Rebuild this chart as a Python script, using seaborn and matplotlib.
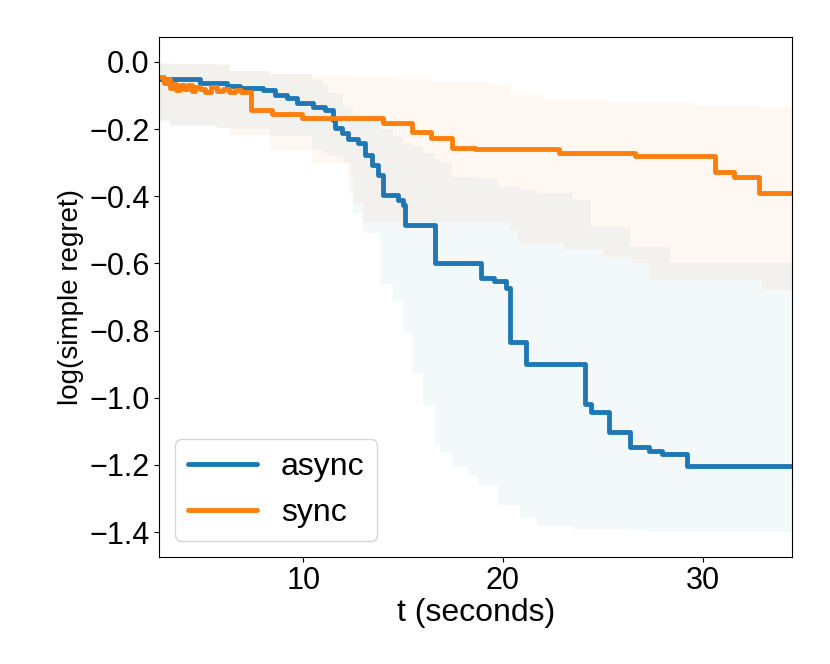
import numpy as np
import pandas as pd
import matplotlib
matplotlib.use("Agg")
import matplotlib.pyplot as plt
import seaborn as sns

# mean curves (step functions)
async_t = [2.83, 4.83, 6.17, 6.83, 8.0, 8.58, 9.17, 9.67, 10.5, 11.09, 11.5, 11.59,
           11.92, 12.25, 12.76, 13.09, 13.43, 13.76, 14.01, 14.76, 15.01, 15.09,
           16.61, 18.9, 19.55, 20.15, 20.35, 21.15, 24.12, 24.39, 25.31, 26.36,
           27.33, 27.98, 29.23, 34.49]
async_y = [-0.052, -0.062, -0.072, -0.077, -0.084, -0.099, -0.109, -0.124, -0.134,
           -0.144, -0.173, -0.198, -0.213, -0.231, -0.241, -0.278, -0.307, -0.337,
           -0.397, -0.411, -0.426, -0.486, -0.598, -0.643, -0.652, -0.672, -0.833,
           -0.900, -1.018, -1.041, -1.102, -1.146, -1.157, -1.167, -1.203, -1.203]

sync_t = [2.83, 3.0, 3.15, 3.3, 3.45, 3.6, 3.8, 4.0, 4.2, 4.4, 4.6, 4.85, 5.1, 5.4,
          5.7, 6.0, 6.3, 6.6, 6.9, 7.38, 8.42, 9.92, 14.01, 15.45, 16.4, 17.45,
          18.62, 22.82, 26.61, 30.62, 31.58, 32.82, 34.49]
sync_y = [-0.045, -0.062, -0.05, -0.078, -0.065, -0.085, -0.07, -0.082, -0.068,
          -0.086, -0.074, -0.08, -0.09, -0.075, -0.086, -0.08, -0.09, -0.085, -0.09,
          -0.144, -0.154, -0.166, -0.183, -0.208, -0.227, -0.255, -0.26, -0.27,
          -0.28, -0.329, -0.342, -0.39, -0.39]

# shaded bands
async_band_t = [2.79, 3.33, 5.66, 6.33, 8.33, 10.42, 10.92, 11.25, 12.0, 12.34, 12.5,
                13.0, 13.84, 14.51, 15.01, 15.43, 16.01, 16.6, 16.85, 17.43, 18.26,
                18.76, 19.76, 20.85, 21.69, 23.5, 24.4, 26.36, 27.28, 28.36, 34.49]
async_upper = [-0.005, -0.005, -0.01, -0.027, -0.035, -0.054, -0.069, -0.094, -0.134,
               -0.14, -0.164, -0.17, -0.2, -0.22, -0.243, -0.25, -0.27, -0.29, -0.302,
               -0.342, -0.342, -0.35, -0.372, -0.382, -0.39, -0.411, -0.491, -0.55,
               -0.55, -0.60, -0.60]
async_lower = [-0.178, -0.19, -0.198, -0.2, -0.22, -0.26, -0.27, -0.28, -0.30, -0.39,
               -0.45, -0.51, -0.66, -0.71, -0.808, -0.927, -1.021, -1.14, -1.16,
               -1.205, -1.23, -1.259, -1.319, -1.354, -1.383, -1.39, -1.39, -1.395,
               -1.398, -1.398, -1.398]

sync_band_t = [2.79, 3.33, 5.66, 6.33, 8.33, 10.42, 12.17, 12.5, 13.0, 14.68, 16.5,
               19.3, 20.35, 20.75, 22.0, 23.0, 25.0, 26.4, 27.3, 29.5, 33.0, 34.49]
sync_upper = [0.0, -0.005, -0.005, -0.027, -0.035, -0.04, -0.045, -0.045, -0.045,
              -0.05, -0.06, -0.07, -0.10, -0.10, -0.115, -0.115, -0.12, -0.12, -0.12,
              -0.13, -0.135, -0.135]
sync_lower = [-0.173, -0.188, -0.198, -0.218, -0.263, -0.302, -0.337, -0.421, -0.476,
              -0.476, -0.476, -0.476, -0.50, -0.54, -0.54, -0.56, -0.58, -0.60,
              -0.649, -0.649, -0.679, -0.679]

sns.set_style("ticks")
plt.rcParams['font.family'] = ['Liberation Sans', 'DejaVu Sans']
for key in ['text.color', 'axes.labelcolor', 'xtick.color', 'ytick.color', 'axes.edgecolor']:
    plt.rcParams[key] = 'black'
palette = sns.color_palette("tab10")

fig, ax = plt.subplots(figsize=(8.3, 6.64), dpi=100)
fig.subplots_adjust(left=0.192, right=0.9545, bottom=0.1616, top=0.9438)

ax.fill_between(async_band_t, async_lower, async_upper, step="post",
                color=palette[0], alpha=0.05, linewidth=0)
ax.fill_between(sync_band_t, sync_lower, sync_upper, step="post",
                color=palette[1], alpha=0.05, linewidth=0)

df_async = pd.DataFrame({"t": async_t, "y": async_y})
df_sync = pd.DataFrame({"t": sync_t, "y": sync_y})
sns.lineplot(data=df_async, x="t", y="y", drawstyle="steps-post", color=palette[0],
             linewidth=3.5, label="async", ax=ax, sort=False)
sns.lineplot(data=df_sync, x="t", y="y", drawstyle="steps-post", color=palette[1],
             linewidth=3.5, label="sync", ax=ax, sort=False)

ax.set_xlim(2.79, 34.49)
ax.set_ylim(-1.473, 0.073)
ax.set_xticks([10, 20, 30])
ax.set_yticks(np.round(np.arange(-1.4, 0.01, 0.2), 1))
ax.tick_params(labelsize=22)
ax.set_xlabel("t (seconds)", fontsize=23, labelpad=1)
ax.set_ylabel("log(simple regret)", fontsize=20)

ax.legend(loc="lower left", fontsize=23, handlelength=2.15, handletextpad=0.75)

fig.savefig("out.png", dpi=100)
